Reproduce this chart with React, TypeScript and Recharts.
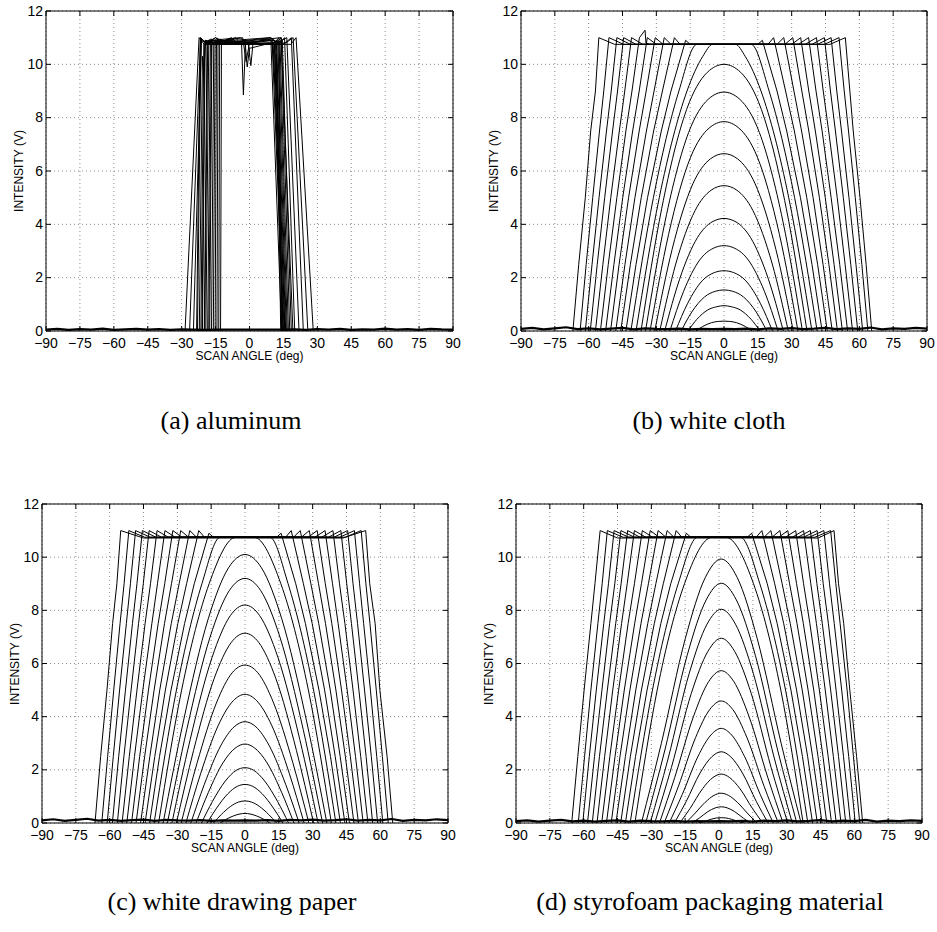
import React from 'react';
import { LineChart, Line, XAxis, YAxis, CartesianGrid, ReferenceArea } from 'recharts';

const xTicks = [-90, -75, -60, -45, -30, -15, 0, 15, 30, 45, 60, 75, 90];
const yTicks = [0, 2, 4, 6, 8, 10, 12];
const floorAngles = [-90, -85, -80, -75, -70, -65, -60, -55, -50, -45, -40, -35, -30, -25, -20, -15, -10, -5, 0,
  5, 10, 15, 20, 25, 30, 35, 40, 45, 50, 55, 60, 65, 70, 75, 80, 85, 90];

const captions = ['(a) aluminum', '(b) white cloth', '(c) white drawing paper', '(d) styrofoam packaging material'];

const aluminumCurves = [
  [-28.5, 0, -22.3, 11, -20, 10.75, 18.3, 10.75, 20.6, 11, 28.2, 0],
  [-26.5, 0, -21.6, 11, -19.5, 10.8, 16, 10.8, 19.3, 11, 25.8, 0],
  [-24.8, 0, -21.2, 10.95, -18.5, 10.75, 15, 10.75, 18.5, 11, 23.8, 0],
  [-23.4, 0, -21.8, 11, -19, 10.8, -15, 11, -12, 10.75, 12, 10.8, 16.5, 11, 21.9, 0],
  [-23, 0, -21.5, 10.9, -17, 10.75, -13, 10.95, -10, 10.75, 13, 10.75, 15.5, 11, 20, 0],
  [-22.2, 0, -20.8, 10.3, -20.2, 9.7, -19.4, 10.9, -16, 10.75, 14, 11, 19.2, 0],
  [-21.5, 0, -20.2, 10.8, -17, 10.95, -12, 10.75, 11, 10.75, 14.5, 10.9, 18.5, 0],
  [-20.8, 0, -19.6, 10.9, -14, 10.8, -8, 11, -5, 10.75, 12, 10.8, 14, 11, 17.8, 0],
  [-20, 0, -18.8, 10.8, -15, 11, -10, 10.8, 10, 10.9, 13.5, 10.8, 17.2, 0],
  [-19.3, 0, -18, 10.9, -13, 10.75, 10.5, 10.75, 13, 11, 16.7, 0],
  [-18.5, 0, -17.3, 10.75, -12, 10.9, 9, 10.75, 12.5, 10.9, 16.3, 0],
  [-17.6, 0, -16.6, 10.9, -11, 10.8, 9.5, 11, 12, 10.8, 16, 0],
  [-16.8, 0, -15.8, 10.75, -9, 10.95, -6, 10.75, 11, 10.9, 15.7, 0],
  [-16, 0, -15.2, 10.9, -8, 10.8, 10.5, 10.75, 15.3, 0],
  [-15.2, 0, -14.6, 10.8, -6, 11, -4, 10.75, 10, 10.95, 15, 0],
  [-14.4, 0, -13.9, 10.9, -3.5, 10.75, -2.7, 8.85, -1.8, 10.75, 11, 10.8, 14.6, 0],
  [-13.6, 0, -13.2, 10.75, -2, 10.9, -1, 9.9, 0, 10.6, 9.5, 10.8, 14.2, 0],
  [-12.8, 0, -12.4, 10.9, -0.5, 10.75, 0.6, 9.95, 1.5, 10.75, 10, 10.75, 11.3, 9.3, 11.8, 10.4, 15.6, 0],
  [-21, 0, -19.8, 10.75, -3, 11, -1.5, 10.1, 0, 10.8, 12, 10.75, 13.8, 0],
  [-19.8, 0, -18.5, 10.8, -7, 10.9, 9, 11, 13, 10.8, 14.2, 0],
  [-18, 0, -16.8, 10.9, -4, 11, -1, 10.75, 8, 10.95, 11.5, 10.75, 14.8, 0],
];

const clothDomes = [
  [-12.5, 0, -9.4, 0.17, -5.6, 0.31, -2.5, 0.36, 0, 0.37, 2.5, 0.36, 5.6, 0.31, 9.4, 0.17, 12.5, 0],
  [-16, 0, -12, 0.44, -7.2, 0.79, -3.2, 0.91, 0, 0.95, 3.2, 0.91, 7.2, 0.79, 12, 0.44, 16, 0],
  [-19, 0, -14.3, 0.71, -8.6, 1.28, -3.8, 1.49, 0, 1.54, 3.8, 1.49, 8.6, 1.28, 14.3, 0.71, 19, 0],
  [-21.5, 0, -16.1, 1.04, -9.7, 1.88, -4.3, 2.19, 0, 2.26, 4.3, 2.19, 9.7, 1.88, 16.1, 1.04, 21.5, 0],
  [-24, 0, -18, 1.47, -10.8, 2.66, -4.8, 3.1, 0, 3.2, 4.8, 3.1, 10.8, 2.66, 18, 1.47, 24, 0],
  [-26.3, 0, -19.7, 1.94, -11.8, 3.5, -5.3, 4.09, 0, 4.22, 5.3, 4.09, 11.8, 3.5, 19.7, 1.94, 26.3, 0],
  [-28.5, 0, -21.4, 2.51, -12.8, 4.52, -5.7, 5.28, 0, 5.45, 5.7, 5.28, 12.8, 4.52, 21.4, 2.51, 28.5, 0],
  [-30.7, 0, -23, 3.06, -13.8, 5.52, -6.1, 6.45, 0, 6.65, 6.1, 6.45, 13.8, 5.52, 23, 3.06, 30.7, 0],
  [-32.8, 0, -24.6, 3.61, -14.8, 6.52, -6.6, 7.61, 0, 7.85, 6.6, 7.61, 14.8, 6.52, 24.6, 3.61, 32.8, 0],
  [-34.8, 0, -26.1, 4.12, -15.7, 7.44, -7, 8.69, 0, 8.96, 7, 8.69, 15.7, 7.44, 26.1, 4.12, 34.8, 0],
  [-36.8, 0, -27.6, 4.6, -16.6, 8.3, -7.4, 9.7, 0, 10, 7.4, 9.7, 16.6, 8.3, 27.6, 4.6, 36.8, 0],
  [-39, 0, -28.7, 5, -16.4, 9, -9.4, 10.3, -5, 10.75, 5, 10.75, 9.4, 10.3, 16.4, 9, 28.7, 5, 39, 0],
  [-41.3, 0, -31.3, 5, -20, 9, -12, 10.75, 12, 10.75, 20, 9, 31.3, 5, 41.3, 0],
];

const clothSaturated = [
  [-43.5, 0, -39, 2.5, -33.9, 5, -27.8, 7.5, -23.5, 9, -17, 10.9, -15, 10.75, 15, 10.75, 17, 10.9, 23.5, 9, 27.8, 7.5, 33.9, 5, 39, 2.5, 43.5, 0],
  [-45.8, 0, -41.5, 2.5, -36.7, 5, -31.2, 7.5, -27.3, 9, -22, 11, -19.5, 10.75, 19.5, 10.75, 22, 11, 27.3, 9, 31.2, 7.5, 36.7, 5, 41.5, 2.5, 45.8, 0],
  [-48, 0, -43.9, 2.5, -39.5, 5, -34.4, 7.5, -31, 9, -26.5, 11, -23.5, 10.75, 23.5, 10.75, 26.5, 11, 31, 9, 34.4, 7.5, 39.5, 5, 43.9, 2.5, 48, 0],
  [-50.3, 0, -46.5, 2.5, -42.3, 5, -37.6, 7.5, -34.5, 9, -30.5, 11, -27, 10.75, 27, 10.75, 30.5, 11, 34.5, 9, 37.6, 7.5, 42.3, 5, 46.5, 2.5, 50.3, 0],
  [-52.5, 0, -48.8, 2.5, -44.9, 5, -40.5, 7.5, -37.6, 9, -34, 11, -30, 10.75, 30, 10.75, 34, 11, 37.6, 9, 40.5, 7.5, 44.9, 5, 48.8, 2.5, 52.5, 0],
  [-54.8, 0, -51.3, 2.5, -47.5, 5, -43.5, 7.5, -40.8, 9, -37.5, 11, -35, 11.28, -34.6, 10.8, -33, 10.75, 33, 10.75, 37.5, 11, 40.8, 9, 43.5, 7.5, 47.5, 5, 51.3, 2.5, 54.8, 0],
  [-57, 0, -53.7, 2.5, -50.2, 5, -46.4, 7.5, -44, 9, -41, 11, -36, 10.75, 36, 10.75, 41, 11, 44, 9, 46.4, 7.5, 50.2, 5, 53.7, 2.5, 57, 0],
  [-59.3, 0, -56.2, 2.5, -52.9, 5, -49.4, 7.5, -47.2, 9, -44.5, 11, -39, 10.75, 39, 10.75, 44.5, 11, 47.2, 9, 49.4, 7.5, 52.9, 5, 56.2, 2.5, 59.3, 0],
  [-61.5, 0, -58.5, 2.5, -55.4, 5, -52.1, 7.5, -50, 9, -47.5, 11, -41.5, 10.75, 41.5, 10.75, 47.5, 11, 50, 9, 52.1, 7.5, 55.4, 5, 58.5, 2.5, 61.5, 0],
  [-63.8, 0, -61.1, 2.5, -58.2, 5, -55.2, 7.5, -53.3, 9, -51, 11, -44.5, 10.75, 44.5, 10.75, 51, 11, 53.3, 9, 55.2, 7.5, 58.2, 5, 61.1, 2.5, 63.8, 0],
  [-67, 0, -64.4, 2.5, -61.5, 5, -59.1, 7.5, -57, 9, -55.5, 11, -48.5, 10.75, 47, 10.75, 53.8, 11, 55.8, 9, 57.3, 7.5, 60.3, 5, 63, 2.5, 65.5, 0],
];

const paperDomes = [
  [-11, 0, -8.3, 0.14, -5, 0.27, -2.2, 0.34, 0, 0.36, 2.2, 0.34, 5, 0.27, 8.3, 0.14, 11, 0],
  [-14, 0, -10.5, 0.32, -6.3, 0.63, -2.8, 0.79, 0, 0.83, 2.8, 0.79, 6.3, 0.63, 10.5, 0.32, 14, 0],
  [-16.8, 0, -12.6, 0.56, -7.6, 1.1, -3.4, 1.38, 0, 1.45, 3.4, 1.38, 7.6, 1.1, 12.6, 0.56, 16.8, 0],
  [-19.3, 0, -14.5, 0.8, -8.7, 1.58, -3.9, 1.98, 0, 2.08, 3.9, 1.98, 8.7, 1.58, 14.5, 0.8, 19.3, 0],
  [-21.7, 0, -16.3, 1.14, -9.8, 2.26, -4.3, 2.82, 0, 2.97, 4.3, 2.82, 9.8, 2.26, 16.3, 1.14, 21.7, 0],
  [-24, 0, -18, 1.46, -10.8, 2.9, -4.8, 3.62, 0, 3.81, 4.8, 3.62, 10.8, 2.9, 18, 1.46, 24, 0],
  [-26.2, 0, -19.7, 1.85, -11.8, 3.68, -5.2, 4.6, 0, 4.84, 5.2, 4.6, 11.8, 3.68, 19.7, 1.85, 26.2, 0],
  [-28.3, 0, -21.2, 2.27, -12.7, 4.51, -5.7, 5.65, 0, 5.94, 5.7, 5.65, 12.7, 4.51, 21.2, 2.27, 28.3, 0],
  [-30.4, 0, -22.8, 2.73, -13.7, 5.43, -6.1, 6.79, 0, 7.14, 6.1, 6.79, 13.7, 5.43, 22.8, 2.73, 30.4, 0],
  [-32.4, 0, -24.3, 3.14, -14.6, 6.23, -6.5, 7.8, 0, 8.2, 6.5, 7.8, 14.6, 6.23, 24.3, 3.14, 32.4, 0],
  [-34.4, 0, -25.8, 3.52, -15.5, 6.99, -6.9, 8.75, 0, 9.2, 6.9, 8.75, 15.5, 6.99, 25.8, 3.52, 34.4, 0],
  [-36.3, 0, -27.2, 3.87, -16.3, 7.68, -7.3, 9.6, 0, 10.1, 7.3, 9.6, 16.3, 7.68, 27.2, 3.87, 36.3, 0],
  [-38.3, 0, -28.1, 5, -15.9, 9, -4, 10.75, 4, 10.75, 15.9, 9, 28.1, 5, 38.3, 0],
  [-40.3, 0, -30.4, 5, -19.1, 9, -11, 10.75, 11, 10.75, 19.1, 9, 30.4, 5, 40.3, 0],
];

const paperSaturated = [
  [-42.3, 0, -37.9, 2.5, -32.8, 5, -26.8, 7.5, -22.5, 9, -16, 10.9, -14, 10.75, 14, 10.75, 16, 10.9, 22.5, 9, 26.8, 7.5, 32.8, 5, 37.9, 2.5, 42.3, 0],
  [-44.3, 0, -40, 2.5, -35.3, 5, -29.8, 7.5, -25.9, 9, -20.5, 11, -18, 10.75, 18, 10.75, 20.5, 11, 25.9, 9, 29.8, 7.5, 35.3, 5, 40, 2.5, 44.3, 0],
  [-46.3, 0, -42.2, 2.5, -37.8, 5, -32.7, 7.5, -29.2, 9, -24.5, 11, -21.5, 10.75, 21.5, 10.75, 24.5, 11, 29.2, 9, 32.7, 7.5, 37.8, 5, 42.2, 2.5, 46.3, 0],
  [-48.3, 0, -44.5, 2.5, -40.3, 5, -35.7, 7.5, -32.6, 9, -28.5, 11, -25, 10.75, 25, 10.75, 28.5, 11, 32.6, 9, 35.7, 7.5, 40.3, 5, 44.5, 2.5, 48.3, 0],
  [-50.3, 0, -46.7, 2.5, -42.8, 5, -38.5, 7.5, -35.6, 9, -32, 11, -28, 10.75, 28, 10.75, 32, 11, 35.6, 9, 38.5, 7.5, 42.8, 5, 46.7, 2.5, 50.3, 0],
  [-52.4, 0, -49, 2.5, -45.3, 5, -41.3, 7.5, -38.8, 9, -35.5, 11, -31, 10.75, 31, 10.75, 35.5, 11, 38.8, 9, 41.3, 7.5, 45.3, 5, 49, 2.5, 52.4, 0],
  [-54.5, 0, -51.3, 2.5, -47.9, 5, -44.3, 7.5, -41.9, 9, -39, 11, -34, 10.75, 34, 10.75, 39, 11, 41.9, 9, 44.3, 7.5, 47.9, 5, 51.3, 2.5, 54.5, 0],
  [-56.6, 0, -53.7, 2.5, -50.5, 5, -47.2, 7.5, -45.1, 9, -42.5, 11, -37, 10.75, 37, 10.75, 42.5, 11, 45.1, 9, 47.2, 7.5, 50.5, 5, 53.7, 2.5, 56.6, 0],
  [-58.8, 0, -56, 2.5, -53, 5, -49.9, 7.5, -47.9, 9, -45.5, 11, -39.5, 10.75, 39.5, 10.75, 45.5, 11, 47.9, 9, 49.9, 7.5, 53, 5, 56, 2.5, 58.8, 0],
  [-61.1, 0, -58.4, 2.5, -55.6, 5, -52.6, 7.5, -50.8, 9, -48.5, 11, -42, 10.75, 42, 10.75, 48.5, 11, 50.8, 9, 52.6, 7.5, 55.6, 5, 58.4, 2.5, 61.1, 0],
  [-63.5, 0, -60.9, 2.5, -58.2, 5, -55.4, 7.5, -53.6, 9, -51.5, 11, -44.5, 10.75, 44.5, 10.75, 51.5, 11, 53.6, 9, 55.4, 7.5, 58.2, 5, 60.9, 2.5, 63.5, 0],
  [-66.5, 0, -64, 2.5, -61.2, 5, -58.7, 7.5, -56.8, 9, -55.1, 11, -45, 10.72, 43.4, 10.72, 53.5, 11, 55.3, 9, 57.7, 7.5, 59.8, 5, 63, 2.5, 65.5, 0],
];

const foamDomes = [
  [-9, 0, -6.5, 0.06, -3.5, 0.14, -1, 0.19, 1, 0.2, 3, 0.19, 5.5, 0.14, 8.5, 0.06, 11, 0],
  [-12, 0, -8.8, 0.18, -4.9, 0.43, -1.6, 0.57, 1, 0.61, 3.6, 0.57, 6.9, 0.43, 10.8, 0.18, 14, 0],
  [-14.8, 0, -10.9, 0.34, -6.1, 0.78, -2.2, 1.04, 1, 1.12, 4.2, 1.04, 8.1, 0.78, 12.9, 0.34, 16.8, 0],
  [-17.4, 0, -12.8, 0.55, -7.3, 1.29, -2.7, 1.71, 1, 1.84, 4.7, 1.71, 9.3, 1.29, 14.8, 0.55, 19.4, 0],
  [-19.8, 0, -14.6, 0.8, -8.4, 1.88, -3.2, 2.49, 1, 2.68, 5.2, 2.49, 10.4, 1.88, 16.6, 0.8, 21.8, 0],
  [-22.1, 0, -16.3, 1.07, -9.4, 2.49, -3.6, 3.31, 1, 3.56, 5.6, 3.31, 11.4, 2.49, 18.3, 1.07, 24.1, 0],
  [-24.3, 0, -18, 1.38, -10.4, 3.21, -4.1, 4.27, 1, 4.59, 6.1, 4.27, 12.4, 3.21, 20, 1.38, 26.3, 0],
  [-26.4, 0, -19.6, 1.72, -11.3, 4.01, -4.5, 5.33, 1, 5.73, 6.5, 5.33, 13.3, 4.01, 21.6, 1.72, 28.4, 0],
  [-28.5, 0, -21.1, 2.09, -12.3, 4.87, -4.9, 6.46, 1, 6.95, 6.9, 6.46, 14.3, 4.87, 23.1, 2.09, 30.5, 0],
  [-30.5, 0, -22.6, 2.41, -13.2, 5.63, -5.3, 7.48, 1, 8.04, 7.3, 7.48, 15.2, 5.63, 24.6, 2.41, 32.5, 0],
  [-32.5, 0, -24.1, 2.71, -14.1, 6.31, -5.7, 8.39, 1, 9.02, 7.7, 8.39, 16.1, 6.31, 26.1, 2.71, 34.5, 0],
  [-34.4, 0, -25.6, 2.98, -14.9, 6.95, -6.1, 9.23, 1, 9.93, 8.1, 9.23, 16.9, 6.95, 27.6, 2.98, 36.4, 0],
  [-37.3, 0, -27.4, 5, -15.3, 9, -3, 10.75, 3, 10.75, 15.3, 9, 27.4, 5, 37.3, 0],
  [-39.4, 0, -29.5, 5, -18.1, 9, -9.5, 10.75, 9.5, 10.75, 18.1, 9, 29.5, 5, 39.4, 0],
];

const foamSaturated = [
  [-41.5, 0, -37, 2.5, -31.9, 5, -25.8, 7.5, -21.4, 9, -14.5, 10.9, -12.5, 10.75, 12.5, 10.75, 14.5, 10.9, 21.4, 9, 25.8, 7.5, 31.9, 5, 37, 2.5, 41.5, 0],
  [-43.6, 0, -39.3, 2.5, -34.4, 5, -28.7, 7.5, -24.7, 9, -19, 11, -16.5, 10.75, 16.5, 10.75, 19, 11, 24.7, 9, 28.7, 7.5, 34.4, 5, 39.3, 2.5, 43.6, 0],
  [-45.7, 0, -41.5, 2.5, -36.9, 5, -31.6, 7.5, -28, 9, -23, 11, -20, 10.75, 20, 10.75, 23, 11, 28, 9, 31.6, 7.5, 36.9, 5, 41.5, 2.5, 45.7, 0],
  [-47.8, 0, -43.9, 2.5, -39.5, 5, -34.6, 7.5, -31.3, 9, -27, 11, -23.5, 10.75, 23.5, 10.75, 27, 11, 31.3, 9, 34.6, 7.5, 39.5, 5, 43.9, 2.5, 47.8, 0],
  [-49.9, 0, -46.1, 2.5, -42, 5, -37.4, 7.5, -34.4, 9, -30.5, 11, -26.5, 10.75, 26.5, 10.75, 30.5, 11, 34.4, 9, 37.4, 7.5, 42, 5, 46.1, 2.5, 49.9, 0],
  [-52, 0, -48.4, 2.5, -44.5, 5, -40.3, 7.5, -37.5, 9, -34, 11, -29.5, 10.75, 29.5, 10.75, 34, 11, 37.5, 9, 40.3, 7.5, 44.5, 5, 48.4, 2.5, 52, 0],
  [-54.1, 0, -50.7, 2.5, -47.1, 5, -43.2, 7.5, -40.7, 9, -37.5, 11, -32.5, 10.75, 32.5, 10.75, 37.5, 11, 40.7, 9, 43.2, 7.5, 47.1, 5, 50.7, 2.5, 54.1, 0],
  [-56.2, 0, -53, 2.5, -49.5, 5, -45.8, 7.5, -43.4, 9, -40.5, 11, -35, 10.75, 35, 10.75, 40.5, 11, 43.4, 9, 45.8, 7.5, 49.5, 5, 53, 2.5, 56.2, 0],
  [-58.3, 0, -55.2, 2.5, -51.9, 5, -48.5, 7.5, -46.2, 9, -43.5, 11, -37.5, 10.75, 37.5, 10.75, 43.5, 11, 46.2, 9, 48.5, 7.5, 51.9, 5, 55.2, 2.5, 58.3, 0],
  [-60.4, 0, -57.5, 2.5, -54.4, 5, -51.1, 7.5, -49, 9, -46.5, 11, -40, 10.75, 40, 10.75, 46.5, 11, 49, 9, 51.1, 7.5, 54.4, 5, 57.5, 2.5, 60.4, 0],
  [-62.4, 0, -59.6, 2.5, -56.8, 5, -53.7, 7.5, -51.8, 9, -49.5, 11, -42.5, 10.75, 42.5, 10.75, 49.5, 11, 51.8, 9, 53.7, 7.5, 56.8, 5, 59.6, 2.5, 62.4, 0],
  [-65.3, 0, -62.6, 2.5, -59.8, 5, -56.8, 7.5, -55, 9, -52.7, 11, -45, 10.72, 44, 10.72, 51, 11, 53, 9, 55.3, 7.5, 58, 5, 61, 2.5, 63.7, 0],
];

// noise floor outside the beams, sampled every 5 degrees
const aluminumFloor = [0.05, 0.08, 0.04, 0.07, 0.05, 0.09, 0.04, 0.06, 0.08, 0.05, 0.07, 0.04, 0.06, 0.05, 0.04, 0.05,
  0.05, 0.05, 0.05, 0.05, 0.05, 0.05, 0.06, 0.04, 0.07, 0.05, 0.08, 0.04, 0.06, 0.05, 0.09, 0.05, 0.07, 0.04, 0.08, 0.06, 0.05];
const clothFloor = [0.08, 0.12, 0.06, 0.1, 0.14, 0.07, 0.1, 0.06, 0.09, 0.12, 0.06, 0.1, 0.08, 0.07, 0.09, 0.06,
  0.08, 0.07, 0.08, 0.07, 0.09, 0.06, 0.1, 0.08, 0.11, 0.07, 0.09, 0.12, 0.07, 0.1, 0.08, 0.13, 0.06, 0.1, 0.08, 0.12, 0.09];
const paperFloor = [0.1, 0.14, 0.08, 0.12, 0.16, 0.09, 0.12, 0.08, 0.11, 0.13, 0.08, 0.12, 0.1, 0.09, 0.11, 0.08,
  0.1, 0.09, 0.1, 0.09, 0.11, 0.08, 0.12, 0.1, 0.13, 0.09, 0.11, 0.14, 0.09, 0.12, 0.1, 0.15, 0.08, 0.12, 0.1, 0.14, 0.11];
const foamFloor = [0.07, 0.1, 0.05, 0.09, 0.12, 0.06, 0.09, 0.05, 0.08, 0.1, 0.05, 0.09, 0.07, 0.06, 0.08, 0.05,
  0.07, 0.06, 0.07, 0.06, 0.08, 0.05, 0.09, 0.07, 0.1, 0.06, 0.08, 0.11, 0.06, 0.09, 0.07, 0.12, 0.05, 0.09, 0.07, 0.1, 0.08];

const sans = '"Liberation Sans", Arial, Helvetica, sans-serif';
const serif = '"Liberation Serif", "Times New Roman", serif';
const AXIS_H = 30;
const AXIS_W = 40;

const toPoints = (flat: number[]) => {
  const pts: { x: number; y: number }[] = [];
  for (let i = 0; i < flat.length; i += 2) pts.push({ x: flat[i], y: flat[i + 1] });
  return pts;
};

const fmt = (v: number) => (v < 0 ? '\u2212' + Math.abs(v) : String(v));

type Box = { top: number; right: number; bottom: number; left: number };

type PanelProps = {
  left: number;
  top: number;
  width: number;
  height: number;
  plot: Box; // distances from the chart edges to the plot frame
  smooth: number[][];
  sharp: number[][];
  floor: number[];
  caption: string;
  captionX: number;
  captionTop: number;
};

const Panel = ({ left, top, width, height, plot, smooth, sharp, floor, caption, captionX, captionTop }: PanelProps) => {
  const plotW = width - plot.left - plot.right;
  const plotH = height - plot.top - plot.bottom;
  const margin = { top: plot.top, right: plot.right, bottom: plot.bottom - AXIS_H, left: plot.left - AXIS_W };
  const floorPts = floorAngles.map((a, i) => ({ x: a, y: floor[i] }));

  const xTick = (p: any) => (
    <g>
      <line x1={p.x} x2={p.x} y1={p.y} y2={p.y - 5} stroke="#000" />
      <line x1={p.x} x2={p.x} y1={p.y - plotH} y2={p.y - plotH + 5} stroke="#000" />
      <text x={p.x} y={p.y + 16.5} textAnchor="middle" fontSize={14} fontFamily={sans} fill="#000">
        {fmt(p.payload.value)}
      </text>
    </g>
  );
  const yTick = (p: any) => (
    <g>
      <line x1={p.x} x2={p.x + 5} y1={p.y} y2={p.y} stroke="#000" />
      <line x1={p.x + plotW} x2={p.x + plotW - 5} y1={p.y} y2={p.y} stroke="#000" />
      <text x={p.x - 3} y={p.y + 4.5} textAnchor="end" fontSize={14} fontFamily={sans} fill="#000">
        {p.payload.value}
      </text>
    </g>
  );

  return (
    <>
      <div style={{ position: 'absolute', left, top, width, height }}>
        <LineChart width={width} height={height} margin={margin}>
          <CartesianGrid stroke="#8a8a8a" strokeDasharray="1 3" />
          <XAxis
            type="number"
            dataKey="x"
            domain={[-90, 90]}
            ticks={xTicks}
            interval={0}
            allowDataOverflow
            height={AXIS_H}
            tickSize={0}
            tickMargin={0}
            axisLine={false}
            tickLine={false}
            tick={xTick}
          />
          <YAxis
            type="number"
            dataKey="y"
            domain={[0, 12]}
            ticks={yTicks}
            interval={0}
            allowDataOverflow
            width={AXIS_W}
            tickSize={0}
            tickMargin={0}
            axisLine={false}
            tickLine={false}
            tick={yTick}
          />
          <Line
            data={floorPts}
            dataKey="y"
            type="linear"
            stroke="#000"
            strokeWidth={2.2}
            dot={false}
            activeDot={false}
            isAnimationActive={false}
          />
          {sharp.map((c, i) => (
            <Line
              key={'s' + i}
              data={toPoints(c)}
              dataKey="y"
              type="linear"
              stroke="#000"
              strokeWidth={1}
              dot={false}
              activeDot={false}
              isAnimationActive={false}
            />
          ))}
          {smooth.map((c, i) => (
            <Line
              key={'m' + i}
              data={toPoints(c)}
              dataKey="y"
              type="monotone"
              stroke="#000"
              strokeWidth={1}
              dot={false}
              activeDot={false}
              isAnimationActive={false}
            />
          ))}
          <ReferenceArea x1={-90} x2={90} y1={0} y2={12} fill="none" stroke="#000" strokeWidth={1} />
        </LineChart>
      </div>
      <div
        style={{
          position: 'absolute',
          left: left + plot.left,
          top: top + plot.top + plotH + 19,
          width: plotW,
          textAlign: 'center',
          fontFamily: sans,
          fontSize: 12,
          lineHeight: '12px',
        }}
      >
        SCAN ANGLE (deg)
      </div>
      <div
        style={{
          position: 'absolute',
          left: left + plot.left - 27 - 60,
          top: top + plot.top + plotH / 2 - 6,
          width: 120,
          height: 12,
          textAlign: 'center',
          fontFamily: sans,
          fontSize: 12,
          lineHeight: '12px',
          transform: 'rotate(-90deg)',
        }}
      >
        INTENSITY (V)
      </div>
      <div
        style={{
          position: 'absolute',
          left: captionX - 250,
          top: captionTop,
          width: 500,
          textAlign: 'center',
          fontFamily: serif,
          fontSize: 26,
          lineHeight: '26px',
        }}
      >
        {caption}
      </div>
    </>
  );
};

export default function App() {
  return (
    <div style={{ position: 'absolute', left: 0, top: 0, width: 937, height: 932, background: '#fff' }}>
      <Panel
        left={0}
        top={0}
        width={470}
        height={370}
        plot={{ top: 11, right: 17, bottom: 39, left: 46 }}
        smooth={[]}
        sharp={aluminumCurves}
        floor={aluminumFloor}
        caption={captions[0]}
        captionX={231}
        captionTop={408}
      />
      <Panel
        left={470}
        top={0}
        width={467}
        height={370}
        plot={{ top: 11, right: 10, bottom: 39, left: 51 }}
        smooth={clothDomes}
        sharp={clothSaturated}
        floor={clothFloor}
        caption={captions[1]}
        captionX={709}
        captionTop={408}
      />
      <Panel
        left={0}
        top={465}
        width={470}
        height={400}
        plot={{ top: 39, right: 22, bottom: 42, left: 42 }}
        smooth={paperDomes}
        sharp={paperSaturated}
        floor={paperFloor}
        caption={captions[2]}
        captionX={232}
        captionTop={889}
      />
      <Panel
        left={470}
        top={465}
        width={467}
        height={400}
        plot={{ top: 39, right: 15, bottom: 42, left: 46 }}
        smooth={foamDomes}
        sharp={foamSaturated}
        floor={foamFloor}
        caption={captions[3]}
        captionX={710}
        captionTop={889}
      />
    </div>
  );
}
